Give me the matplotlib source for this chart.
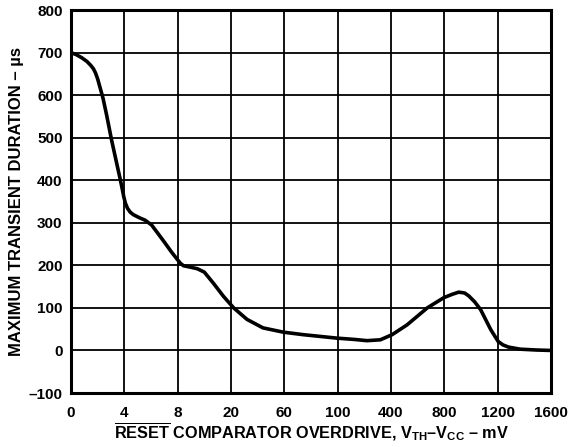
import matplotlib
matplotlib.use("Agg")
import matplotlib.pyplot as plt

plt.rcParams['font.family'] = ['Liberation Sans', 'DejaVu Sans']
plt.rcParams['font.weight'] = 'bold'
plt.rcParams['mathtext.fontset'] = 'custom'
plt.rcParams['mathtext.rm'] = 'Liberation Sans:bold'
plt.rcParams['mathtext.bf'] = 'Liberation Sans:bold'
plt.rcParams['mathtext.it'] = 'Liberation Sans:bold'
plt.rcParams['mathtext.sf'] = 'Liberation Sans:bold'

x_tick_labels = ["0", "4", "8", "20", "60", "100", "400", "800", "1200", "1600"]
y_ticks = [-100, 0, 100, 200, 300, 400, 500, 600, 700, 800]
y_tick_labels = ["\u2013100", "0", "100", "200", "300", "400", "500", "600", "700", "800"]

# curve position in tick-index units (0 = "0", 9 = "1600")
curve_x = [0.0, 0.1, 0.2, 0.3, 0.37, 0.42, 0.46, 0.5, 0.54, 0.6, 0.67, 0.76, 0.86,
           0.92, 0.96, 0.99, 1.02, 1.06, 1.11, 1.17, 1.28, 1.39, 1.51, 1.63, 1.76,
           1.88, 1.98, 2.05, 2.11, 2.23, 2.37, 2.5, 2.67, 2.86, 3.05, 3.3,
           3.6, 3.98, 4.36, 4.67, 4.98, 5.3, 5.55, 5.8, 6.02, 6.3, 6.68, 6.99,
           7.15, 7.27, 7.38, 7.46, 7.57, 7.68, 7.87, 8.01, 8.1, 8.2, 8.42, 8.73, 9.0]
curve_y = [700, 695, 688, 679, 670, 662, 652, 638, 620, 593, 552, 495, 438,
           404, 380, 361, 346, 334, 325, 319, 312, 306, 295, 275, 253,
           232, 216, 205, 199, 196, 192, 184, 158, 127, 100, 73,
           53, 43, 37, 33, 29, 26, 23, 25, 37, 60, 100, 124,
           132, 137, 135, 128, 114, 96, 49, 21, 13, 8, 3, 1, 0]

fig = plt.figure(figsize=(5.8, 4.47), dpi=100)
ax = fig.add_axes([0.1224, 0.1208, 0.8276, 0.8568])

ax.plot(curve_x, curve_y, color='black', lw=2.6, solid_joinstyle='round',
        solid_capstyle='round', zorder=3)

ax.set_xlim(0, 9)
ax.set_ylim(-100, 800)
ax.set_xticks(range(len(x_tick_labels)))
ax.set_xticklabels(x_tick_labels)
ax.set_yticks(y_ticks)
ax.set_yticklabels(y_tick_labels)
ax.grid(True, color='black', lw=1.3)
ax.tick_params(length=0, labelsize=11, pad=6)
ax.tick_params(axis='x', pad=9)
for s in ax.spines.values():
    s.set_linewidth(2.2)
    s.set_zorder(4)

ax.set_ylabel("MAXIMUM TRANSIENT DURATION \u2013 \u00b5s", fontsize=12, fontweight='bold', labelpad=3)
ax.set_xlabel(r"$\overline{\mathrm{RESET}}$ COMPARATOR OVERDRIVE, V$_{\mathrm{TH}}$" + "\u2013V"
              + r"$_{\mathrm{CC}}$" + " \u2013 mV",
              fontsize=11.7, fontweight='bold', labelpad=1)

fig.savefig("out.png", dpi=100)
